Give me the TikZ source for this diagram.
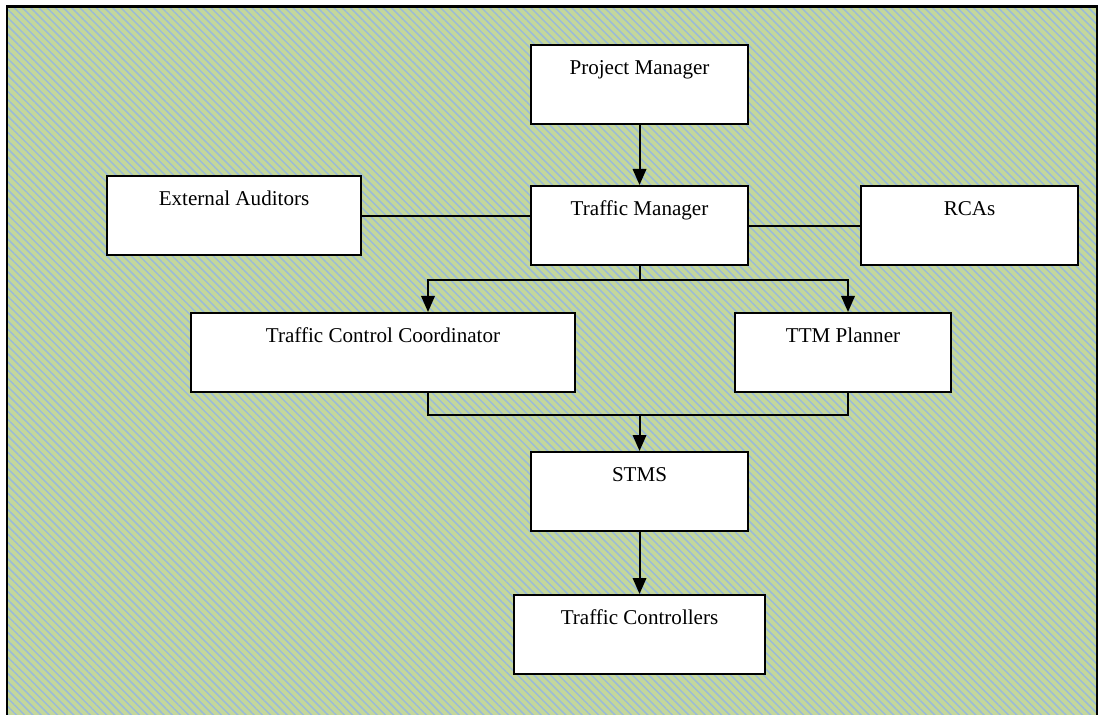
\documentclass[tikz,border=0pt]{standalone}
\usepackage{fontspec}
\setmainfont{Liberation Serif}
\usepackage{xcolor}
\definecolor{bggreen}{RGB}{196, 215, 155}
\definecolor{stripeblue}{RGB}{155, 187, 217}
\usetikzlibrary{arrows.meta, patterns.meta}

\begin{document}
\begin{tikzpicture}[x=0.02cm, y=-0.02cm,
    box/.style={draw, fill=white, line width=1.2pt, anchor=north west,
        inner xsep=0pt, inner ysep=0pt, text height=0.59cm, text depth=0.99cm,
        font=\fontsize{12}{14}\selectfont},
    link/.style={line width=1.1pt},
    flow/.style={link, -{Triangle[length=0.32cm, width=0.27cm]}}]

        \useasboundingbox (0,0) rectangle (1098,715);

        % Draw the striped background inside its frame
        \draw[line width=1.7pt, preaction={fill=bggreen},
            pattern={Lines[angle=-45, distance=3.3pt, line width=0.85pt]},
            pattern color=stripeblue] (7,7) rectangle (1097,730);

        % Draw the roles as boxes
        \node[box, minimum width=4.34cm] (pm) at (530,44) {Project Manager};
        \node[box, minimum width=4.34cm] (tm) at (530,185) {Traffic Manager};
        \node[box, minimum width=5.08cm] (ea) at (106,175) {External Auditors};
        \node[box, minimum width=4.34cm] (rca) at (860,185) {RCAs};
        \node[box, minimum width=7.68cm] (tcc) at (190,312) {Traffic Control Coordinator};
        \node[box, minimum width=4.32cm] (ttm) at (734,312) {TTM Planner};
        \node[box, minimum width=4.34cm] (stms) at (530,451) {STMS};
        \node[box, minimum width=5.02cm] (tc) at (513,594) {Traffic Controllers};

        % Bends of the branching lines
        \coordinate (tccin) at (428,280);
        \coordinate (ttmin) at (848,280);
        \coordinate (tccout) at (428,415);
        \coordinate (ttmout) at (848,415);

        % Draw the reporting lines
        \draw[flow] (pm.south) -- (pm.south |- tm.north);
        \draw[link] (ea.east) -- (ea.east -| tm.west);
        \draw[link] (rca.west -| tm.east) -- (rca.west);
        \draw[link] (tm.south) -- (tm.south |- tccin);
        \draw[flow] (tm.south |- tccin) -- (tccin) -- (tccin |- tcc.north);
        \draw[flow] (tm.south |- ttmin) -- (ttmin) -- (ttmin |- ttm.north);
        \draw[link] (tccout |- tcc.south) -- (tccout) -- (ttmout) -- (ttmout |- ttm.south);
        \draw[flow] (stms.north |- tccout) -- (stms.north);
        \draw[flow] (stms.south) -- (stms.south |- tc.north);
    \end{tikzpicture}
\end{document}
